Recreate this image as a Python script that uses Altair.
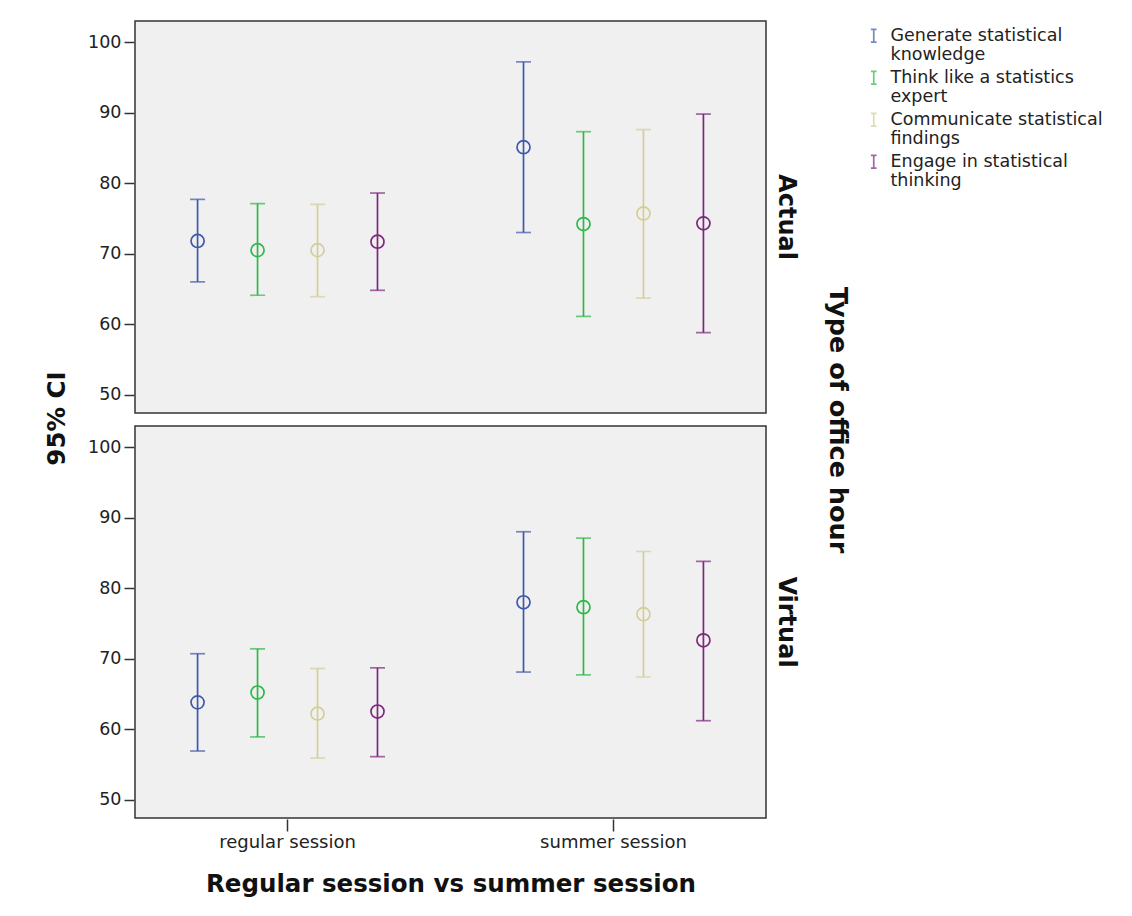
import altair as alt
import pandas as pd

offices = ["Actual", "Virtual"]
sessions = ["regular session", "summer session"]
skills = [
    "Generate statistical knowledge",
    "Think like a statistics expert",
    "Communicate statistical findings",
    "Engage in statistical thinking",
]
skill_lines = [
    ["Generate statistical", "knowledge"],
    ["Think like a statistics", "expert"],
    ["Communicate statistical", "findings"],
    ["Engage in statistical", "thinking"],
]
colors = ["#3E58AC", "#2EB848", "#D3CE97", "#7C287D"]

# Actual office hour
mean_actual_regular = [71.8, 70.5, 70.5, 71.7]
lo_actual_regular = [66.0, 64.1, 63.9, 64.8]
hi_actual_regular = [77.7, 77.1, 77.0, 78.6]
mean_actual_summer = [85.1, 74.2, 75.7, 74.3]
lo_actual_summer = [73.0, 61.1, 63.7, 58.8]
hi_actual_summer = [97.2, 87.3, 87.6, 89.8]
# Virtual office hour
mean_virtual_regular = [63.8, 65.2, 62.2, 62.5]
lo_virtual_regular = [56.9, 58.9, 55.9, 56.1]
hi_virtual_regular = [70.7, 71.4, 68.6, 68.7]
mean_virtual_summer = [78.0, 77.3, 76.3, 72.6]
lo_virtual_summer = [68.1, 67.7, 67.4, 61.2]
hi_virtual_summer = [88.0, 87.1, 85.2, 83.8]

groups = [
    ("Actual", "regular session", mean_actual_regular, lo_actual_regular, hi_actual_regular),
    ("Actual", "summer session", mean_actual_summer, lo_actual_summer, hi_actual_summer),
    ("Virtual", "regular session", mean_virtual_regular, lo_virtual_regular, hi_virtual_regular),
    ("Virtual", "summer session", mean_virtual_summer, lo_virtual_summer, hi_virtual_summer),
]
rows = []
for off, ses, m, lo, hi in groups:
    for i, sk in enumerate(skills):
        rows.append({"office": off, "session": ses, "skill": sk,
                     "mean": m[i], "lo": lo[i], "hi": hi[i]})
df = pd.DataFrame(rows)

FONT = "DejaVu Sans"
PANEL_W, PANEL_H, GAP = 631, 392, 11

label_expr = ""
for sk, lines in zip(skills, skill_lines):
    arr = "[" + ", ".join("'" + l + "'" for l in lines) + "]"
    label_expr += f"datum.label == '{sk}' ? {arr} : "
label_expr += "datum.label"

legend = alt.Legend(
    title=None,
    symbolType="M-0.45,-1H0.45M0,-1V1M-0.45,1H0.45",
    symbolSize=160,
    symbolStrokeWidth=1.7,
    symbolFillColor="transparent",
    labelFontSize=17.5,
    labelFont=FONT,
    labelColor="#222222",
    labelLimit=400,
    labelOffset=8,
    labelExpr=label_expr,
    rowPadding=4,
    padding=6,
    offset=9,
)

color = alt.Color("skill:N", scale=alt.Scale(domain=skills, range=colors), legend=legend)
x = alt.X("session:N", sort=sessions,
          scale=alt.Scale(paddingInner=0.264, paddingOuter=0.1),
          axis=alt.Axis(title="Regular session vs summer session", labelAngle=0,
                        tickSize=12, titlePadding=21, labelFontSize=18))
xo = alt.XOffset("skill:N", sort=skills, scale=alt.Scale(paddingInner=0, paddingOuter=0))
yscale = alt.Scale(domain=[47.4, 103], nice=False, zero=False)
yaxis = alt.Axis(title=None, values=[50, 60, 70, 80, 90, 100], tickSize=10,
                 labelPadding=3, grid=False, labelFontSize=17.5)

base = alt.Chart(df)
rule = base.mark_rule(strokeWidth=1.7).encode(
    x=x, xOffset=xo,
    y=alt.Y("lo:Q", scale=yscale, axis=yaxis),
    y2="hi:Q", color=color)
cap_lo = base.mark_tick(size=15, thickness=1.7).encode(
    x=x, xOffset=xo, y=alt.Y("lo:Q", scale=yscale, axis=yaxis), color=color)
cap_hi = base.mark_tick(size=15, thickness=1.7).encode(
    x=x, xOffset=xo, y=alt.Y("hi:Q", scale=yscale, axis=yaxis), color=color)
pts = base.mark_point(shape="circle", filled=False, size=170, strokeWidth=1.7, opacity=1).encode(
    x=x, xOffset=xo, y=alt.Y("mean:Q", scale=yscale, axis=yaxis), color=color)

layer = alt.layer(rule, cap_lo, cap_hi, pts).properties(width=PANEL_W, height=PANEL_H)

chart = layer.facet(
    row=alt.Row("office:N", sort=offices,
                header=alt.Header(title="Type of office hour", labelOrient="right",
                                  titleOrient="right", labelAngle=90, titleAngle=90,
                                  labelFontSize=24, labelFontWeight="bold",
                                  titleFontSize=25.5, titleFontWeight="bold",
                                  labelFont=FONT, titleFont=FONT,
                                  labelColor="#111111", titleColor="#111111",
                                  labelPadding=7, titlePadding=16)),
    spacing=GAP,
).properties(
    title=alt.TitleParams("95% CI", orient="left", anchor="middle", frame="group",
                          fontSize=24.5, fontWeight="bold", font=FONT, color="#111111",
                          offset=17, dx=-(PANEL_H + GAP / 2)),
    padding={"left": 37, "top": 12, "right": 5, "bottom": 5},
    background="white",
).configure_view(
    fill="#F0F0F0", stroke="#333333", strokeWidth=1.5
).configure_axis(
    domain=False, tickColor="#333333", tickWidth=1.5,
    labelFont=FONT, labelColor="#222222",
    titleFont=FONT, titleFontSize=24.5, titleFontWeight="bold", titleColor="#111111",
)

chart.save("out.html", embed_options={"renderer": "svg", "actions": False})
